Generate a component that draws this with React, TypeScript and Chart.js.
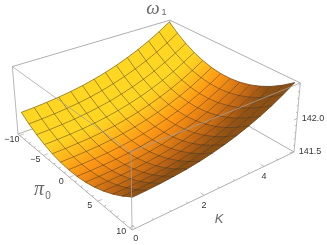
import React, { useEffect, useRef } from "react";
import { Chart, registerables } from "chart.js";

Chart.register(...registerables);

// Surface heights: omega_1 - 141, rows by K (0..5), columns by pi_0 (-10..10)
const OMEGA_BASE = 141;
const omegaRows: number[][] = [
  [0.835,0.745,0.671,0.613,0.570,0.542,0.531,0.535,0.554,0.590,0.641,0.707,0.789,0.887],
  [0.844,0.753,0.676,0.616,0.573,0.544,0.532,0.536,0.556,0.591,0.642,0.710,0.793,0.892],
  [0.858,0.764,0.687,0.625,0.581,0.551,0.538,0.542,0.561,0.597,0.649,0.717,0.802,0.902],
  [0.877,0.781,0.701,0.638,0.592,0.561,0.548,0.552,0.571,0.608,0.660,0.729,0.815,0.917],
  [0.902,0.804,0.723,0.658,0.611,0.580,0.566,0.568,0.588,0.625,0.678,0.747,0.834,0.938],
  [0.934,0.833,0.751,0.685,0.636,0.604,0.590,0.592,0.612,0.648,0.703,0.773,0.861,0.966],
  [0.975,0.872,0.787,0.720,0.670,0.638,0.622,0.624,0.644,0.680,0.736,0.807,0.896,1.003],
  [1.024,0.920,0.833,0.764,0.712,0.679,0.663,0.665,0.685,0.722,0.776,0.849,0.940,1.048],
  [1.081,0.975,0.886,0.816,0.763,0.729,0.712,0.714,0.733,0.771,0.826,0.900,0.991,1.101],
  [1.149,1.040,0.949,0.878,0.824,0.789,0.771,0.773,0.793,0.830,0.886,0.961,1.054,1.165],
  [1.225,1.114,1.022,0.949,0.894,0.858,0.840,0.840,0.860,0.898,0.955,1.030,1.124,1.237],
  [1.312,1.200,1.105,1.031,0.974,0.937,0.919,0.919,0.939,0.978,1.035,1.111,1.206,1.320],
  [1.411,1.296,1.200,1.124,1.066,1.029,1.009,1.009,1.029,1.068,1.126,1.202,1.298,1.415],
  [1.520,1.403,1.305,1.227,1.169,1.130,1.110,1.110,1.130,1.169,1.227,1.305,1.403,1.520],
];
const piTicks = [-10, -5, 0, 5, 10];
const piMinorTicks = [-9,-8,-7,-6,-4,-3,-2,-1,1,2,3,4,6,7,8,9];
const kTicks = [0, 2, 4];
const kMinorTicks = [0.5,1,1.5,2.5,3,3.5,4.5,5];
const omegaTicks = [141.5, 142.0];
const omegaMinorTicks = [141.6,141.7,141.8,141.9,142.1,142.2,142.3,142.4,142.5];

const PI_MIN = -10, PI_MAX = 10, K_MIN = 0, K_MAX = 5;
const BOX_PI_MIN = -10.4, BOX_PI_MAX = 10.4, BOX_K_MIN = -0.1, BOX_K_MAX = 5.1, BOX_Z_MIN = 141.49, BOX_Z_MAX = 142.52;

// view: image of the nearest floor corner and its three neighbours, with perspective weights
const O = [132, 230], P1 = [18, 134], P2 = [294, 152], P3 = [131, 152];
const WA = 1.22, WB = 1.18, WC = 0.95;

function proj(pi: number, k: number, z: number) {
  const u = (BOX_PI_MAX - pi) / (BOX_PI_MAX - BOX_PI_MIN);
  const v = (k - BOX_K_MIN) / (BOX_K_MAX - BOX_K_MIN);
  const w = (z - BOX_Z_MIN) / (BOX_Z_MAX - BOX_Z_MIN);
  const r = 1 - u - v - w;
  const d = r + WA * u + WB * v + WC * w;
  return {
    x: (r * O[0] + WA * u * P1[0] + WB * v * P2[0] + WC * w * P3[0]) / d,
    y: (r * O[1] + WA * u * P1[1] + WB * v * P2[1] + WC * w * P3[1]) / d,
  };
}

const nI = omegaRows[0].length;
const nJ = omegaRows.length;
const piAt = (i: number) => PI_MIN + ((PI_MAX - PI_MIN) * i) / (nI - 1);
const kAt = (j: number) => K_MIN + ((K_MAX - K_MIN) * j) / (nJ - 1);
const surf = (i: number, j: number) => proj(piAt(i), kAt(j), OMEGA_BASE + omegaRows[j][i]);

function shadeColor(s: number) {
  const stops: [number, number[]][] = [
    [0, [140, 80, 20]], [0.2, [190, 100, 20]], [0.6, [255, 150, 20]], [0.95, [255, 215, 35]],
  ];
  if (s <= 0) return `rgb(${stops[0][1].join(",")})`;
  for (let n = 1; n < stops.length; n++) {
    if (s <= stops[n][0]) {
      const t = (s - stops[n - 1][0]) / (stops[n][0] - stops[n - 1][0]);
      const c = stops[n - 1][1].map((a, m) => Math.round(a + (stops[n][1][m] - a) * t));
      return `rgb(${c.join(",")})`;
    }
  }
  return `rgb(${stops[3][1].join(",")})`;
}

// light level at a mesh node, from the surface's own slopes
function nodeShade(i: number, j: number) {
  const i0 = Math.max(i - 1, 0), i1 = Math.min(i + 1, nI - 1);
  const j0 = Math.max(j - 1, 0), j1 = Math.min(j + 1, nJ - 1);
  const span = BOX_Z_MAX - BOX_Z_MIN;
  const du = ((omegaRows[j][i1] - omegaRows[j][i0]) / (i1 - i0)) * (nI - 1) / span;
  const dv = ((omegaRows[j1][i] - omegaRows[j0][i]) / (j1 - j0)) * (nJ - 1) / span;
  return 0.62 - 0.5 * du - 0.05 * dv;
}

function lineDs(data: { x: number; y: number }[], color: string, width: number) {
  return { data, borderColor: color, borderWidth: width, showLine: true, pointRadius: 0, fill: false, tension: 0, clip: false };
}

function buildDatasets(ctx: CanvasRenderingContext2D) {
  const back: any[] = [];
  const grey = "rgb(175,175,175)";
  const greyFront = "rgba(160,160,160,0.75)";
  const c = (pi: number, k: number, z: number) => proj(pi, k, z);
  const A = BOX_PI_MIN, B = BOX_PI_MAX, K0 = BOX_K_MIN, K1 = BOX_K_MAX, Z0 = BOX_Z_MIN, Z1 = BOX_Z_MAX;
  // back box edges
  back.push(lineDs([c(A, K0, Z1), c(A, K1, Z1), c(B, K1, Z1)], grey, 1));
  back.push(lineDs([c(A, K0, Z0), c(A, K1, Z0), c(B, K1, Z0)], grey, 1));
  back.push(lineDs([c(A, K1, Z0), c(A, K1, Z1)], grey, 1));
  // surface cells, far to near
  for (let i = 0; i < nI - 1; i++) {
    for (let j = nJ - 2; j >= 0; j--) {
      const a0 = surf(i, j), a1 = surf(i, j + 1), b0 = surf(i + 1, j), b1 = surf(i + 1, j + 1);
      const g = ctx.createLinearGradient((a0.x + a1.x) / 2, (a0.y + a1.y) / 2, (b0.x + b1.x) / 2, (b0.y + b1.y) / 2);
      g.addColorStop(0, shadeColor((nodeShade(i, j) + nodeShade(i, j + 1)) / 2));
      g.addColorStop(1, shadeColor((nodeShade(i + 1, j) + nodeShade(i + 1, j + 1)) / 2));
      back.push({ data: [a0, b0, b1, a1, a0], borderColor: g, backgroundColor: g, borderWidth: 0.6, showLine: true, pointRadius: 0, fill: "shape", tension: 0, clip: false });
    }
  }
  // mesh
  const mesh = "rgba(70,50,25,0.62)";
  for (let j = 0; j < nJ; j++) {
    back.push(lineDs(omegaRows[j].map((_, i) => surf(i, j)), mesh, 0.8));
  }
  for (let i = 0; i < nI; i++) {
    back.push(lineDs(omegaRows.map((_, j) => surf(i, j)), mesh, 0.8));
  }
  // front box edges
  back.push(lineDs([c(A, K0, Z0), c(B, K0, Z0), c(B, K1, Z0)], grey, 1));
  back.push(lineDs([c(A, K0, Z0), c(A, K0, Z1), c(B, K0, Z1), c(B, K1, Z1), c(B, K1, Z0)], greyFront, 1));
  back.push(lineDs([c(B, K0, Z0), c(B, K0, Z1)], greyFront, 1));
  // ticks
  const tick = (a: any, b: any) => back.push(lineDs([a, b], grey, 0.8));
  piTicks.forEach((p) => tick(c(p, K0, Z0), c(p, K0 + 0.12, Z0)));
  piMinorTicks.forEach((p) => tick(c(p, K0, Z0), c(p, K0 + 0.06, Z0)));
  kTicks.forEach((k) => tick(c(B, k, Z0), c(B - 0.5, k, Z0)));
  kMinorTicks.forEach((k) => tick(c(B, k, Z0), c(B - 0.25, k, Z0)));
  omegaTicks.forEach((z) => tick(c(B, K1, z), c(B, K1 - 0.12, z)));
  omegaMinorTicks.forEach((z) => tick(c(B, K1, z), c(B, K1 - 0.06, z)));
  return back.reverse();
}

const labelsPlugin = {
  id: "boxLabels",
  afterDatasetsDraw(chart: any) {
    const ctx = chart.ctx;
    ctx.save();
    ctx.textAlign = "center";
    ctx.textBaseline = "middle";
    ctx.fillStyle = "rgb(55,55,55)";
    ctx.font = '9px "Liberation Sans"';
    piTicks.forEach((p) => {
      const a = proj(p, BOX_K_MIN, BOX_Z_MIN);
      ctx.fillText(p < 0 ? "\u2212" + Math.abs(p) : String(p), a.x - 8, a.y + 4);
    });
    kTicks.forEach((k) => {
      const a = proj(BOX_PI_MAX, k, BOX_Z_MIN);
      ctx.fillText(String(k), a.x, a.y + 10);
    });
    omegaTicks.forEach((z) => {
      const a = proj(BOX_PI_MAX, BOX_K_MAX, z);
      ctx.fillText(z.toFixed(1), a.x + 16, a.y);
    });
    ctx.fillStyle = "rgb(105,105,105)";
    ctx.font = 'italic 19px "Liberation Serif"';
    ctx.fillText("\u03C9", 153, 9);
    ctx.font = '9px "Liberation Sans"';
    ctx.fillText("1", 164, 13);
    ctx.font = 'italic 20px "Liberation Serif"';
    ctx.fillText("\u03C0", 39, 190);
    ctx.font = '10px "Liberation Sans"';
    ctx.fillText("0", 48, 196);
    ctx.font = 'italic 13px "Liberation Sans"';
    ctx.fillText("K", 219, 219);
    ctx.restore();
  },
};

export default function App() {
  const ref = useRef<HTMLCanvasElement>(null);
  useEffect(() => {
    document.body.style.margin = "0";
    const canvas = ref.current as HTMLCanvasElement;
    const chart = new Chart(canvas, {
      type: "scatter",
      data: { datasets: buildDatasets(canvas.getContext("2d") as CanvasRenderingContext2D) },
      options: {
        animation: false,
        responsive: false,
        layout: { padding: 0 },
        scales: {
          x: { type: "linear", min: 0, max: 327, display: false },
          y: { type: "linear", min: 0, max: 245, reverse: true, display: false },
        },
        plugins: { legend: { display: false }, tooltip: { enabled: false } },
      },
      plugins: [labelsPlugin],
    } as any);
    return () => chart.destroy();
  }, []);
  return <canvas ref={ref} width={327} height={245} style={{ display: "block", width: 327, height: 245 }} />;
}
